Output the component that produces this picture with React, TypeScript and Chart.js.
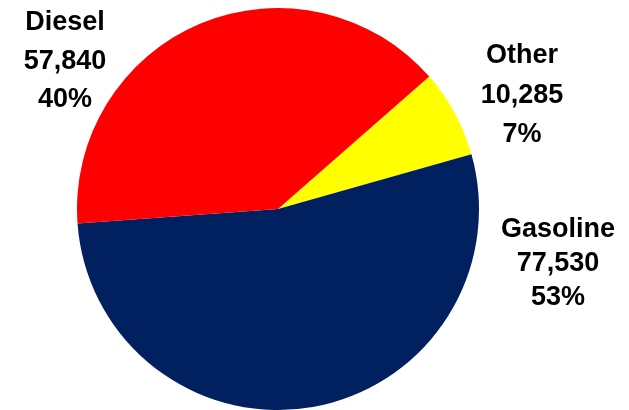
import React, { useEffect, useRef } from "react";
import { Chart, registerables } from "chart.js";

Chart.register(...registerables);

const categories = ["Other", "Gasoline", "Diesel"];
const values = [10285, 77530, 57840];
const percentLabels = ["7%", "53%", "40%"];
const colors = ["#FFFF00", "#002060", "#FF0000"];

// label placement relative to pie center, in units of a 201px radius
const labelLayout = [
  { dx: 244, dy: -146, spacing: 39.5 },
  { dx: 280, dy: 28, spacing: 34 },
  { dx: -213, dy: -179, spacing: 38.5 },
];

const fmt = (v: number) => v.toLocaleString("en-US");

const labelPlugin = {
  id: "pieLabels",
  afterDraw(chart: any) {
    const meta = chart.getDatasetMeta(0);
    const ctx = chart.ctx;
    ctx.save();
    ctx.font = "bold 27px 'Liberation Sans', Arial, sans-serif";
    ctx.fillStyle = "#000000";
    ctx.textAlign = "center";
    ctx.textBaseline = "alphabetic";
    meta.data.forEach((arc: any, i: number) => {
      const { x, y, outerRadius } = arc.getProps(["x", "y", "outerRadius"], true);
      const s = outerRadius / 201;
      const L = labelLayout[i];
      const lines = [categories[i], fmt(values[i]), percentLabels[i]];
      lines.forEach((t, j) => {
        ctx.fillText(t, x + L.dx * s, y + L.dy * s + j * L.spacing * s);
      });
    });
    ctx.restore();
  },
};

export default function App() {
  const ref = useRef<HTMLCanvasElement>(null);
  useEffect(() => {
    if (!ref.current) return;
    const chart = new Chart(ref.current, {
      type: "pie",
      data: {
        labels: categories,
        datasets: [
          {
            data: values,
            backgroundColor: colors,
            borderWidth: 0,
          },
        ],
      },
      options: {
        responsive: false,
        animation: false,
        rotation: 48.8,
        layout: { padding: { top: 8, bottom: 0, left: 77, right: 150 } },
        plugins: {
          legend: { display: false },
          tooltip: { enabled: false },
        },
      },
      plugins: [labelPlugin],
    });
    return () => chart.destroy();
  }, []);
  return (
    <div style={{ position: "absolute", left: 0, top: 0, width: 629, height: 410, background: "#fff" }}>
      <canvas ref={ref} width={629} height={410} />
    </div>
  );
}
